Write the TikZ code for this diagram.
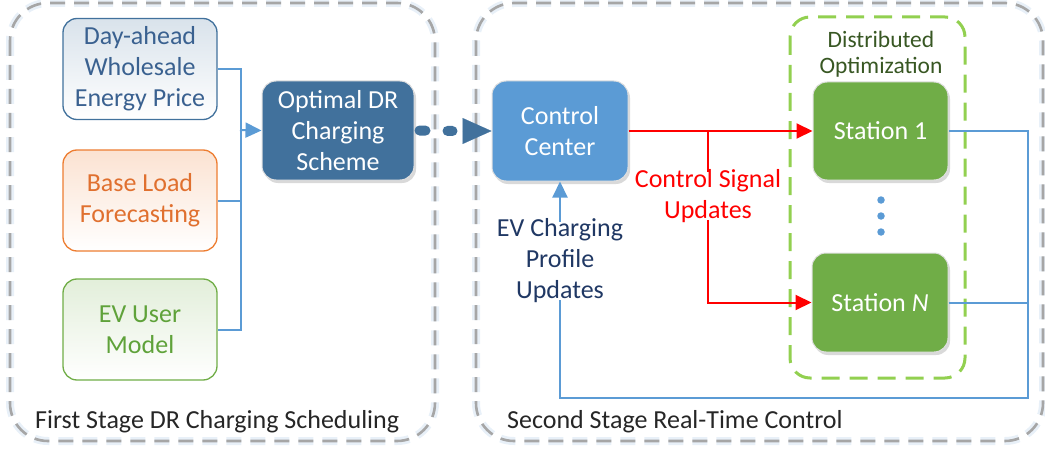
\documentclass[tikz,border=0pt]{standalone}
\usepackage{fontspec}
\setmainfont{Carlito}
\usetikzlibrary{arrows.meta,shadows,calc}
\definecolor{cBlueDk}{HTML}{41719C}
\definecolor{cBlue}{HTML}{5B9BD5}
\definecolor{cGreen}{HTML}{70AD47}
\definecolor{cGreenLt}{HTML}{92D050}
\definecolor{cOrange}{HTML}{ED7D31}
\definecolor{cNavy}{HTML}{203864}
\definecolor{cDayTxt}{HTML}{3A6190}
\definecolor{cBaseTxt}{HTML}{E0702F}
\definecolor{cEvTxt}{HTML}{5FA23A}
\definecolor{cDist}{HTML}{385723}
\definecolor{cGrayLine}{HTML}{A6A6A6}
\definecolor{cGlow}{HTML}{E8F0F8}
\definecolor{cLbl}{HTML}{262626}
\begin{document}
\begin{tikzpicture}[x=1pt,y=-1pt,
  txt/.style={font=\fontsize{26}{31}\selectfont, align=center},
  inbox/.style={txt, rounded corners=14pt, minimum width=154pt, minimum height=101pt,
    inner sep=0pt, line width=1.3pt, bottom color=white, shading angle=45},
  solidbox/.style={txt, text=white, rounded corners=14pt, inner sep=0pt, draw=black!12, line width=1pt,
    drop shadow={shadow xshift=2pt, shadow yshift=-3pt, opacity=0.25, fill=black!60}},
  outerbox/.style={draw=cGrayLine, line width=2.6pt, rounded corners=38pt, dash pattern=on 15pt off 9pt},
  glowbox/.style={draw=cGlow, line width=8pt, rounded corners=38pt, dash pattern=on 15pt off 9pt},
  blueline/.style={draw=cBlue, line width=2pt},
  bluearrow/.style={blueline, -{Triangle[length=16pt,width=15pt]}},
  redline/.style={draw=red, line width=2pt},
  redarrow/.style={redline, -{Triangle[length=16pt,width=15pt]}},
  lbl/.style={font=\fontsize{26}{31}\selectfont, text=cLbl, inner sep=0pt, anchor=west},
  dotn/.style={circle, fill=cBlue, minimum size=7.5pt, inner sep=0pt}
]
\useasboundingbox (0,0) rectangle (1045,452);

% outer stage boxes
\draw[glowbox] (10,3) rectangle (435,441);
\draw[outerbox] (10,3) rectangle (435,441);
\draw[glowbox] (476,3) rectangle (1043,441);
\draw[outerbox] (476,3) rectangle (1043,441);

% distributed optimization box
\draw[draw=cGreenLt, line width=3pt, rounded corners=20pt, dash pattern=on 18pt off 10pt] (790,17) rectangle (965,378);
\node[font=\fontsize{23.5}{26}\selectfont, text=cDist, align=center, inner sep=0pt] (dist) at (881,54) {Distributed\\Optimization};

% input boxes
\node[inbox, draw=cBlueDk, text=cDayTxt, top color=cBlueDk!20] (day) at (140,69) {Day-ahead\\Wholesale\\Energy Price};
\node[inbox, draw=cOrange, text=cBaseTxt, top color=cOrange!22] (base) at (140,200.5) {Base Load\\Forecasting};
\node[inbox, draw=cGreen, text=cEvTxt, top color=cGreen!20] (evu) at (140,329.5) {EV User\\Model};

% main boxes
\node[solidbox, fill=cBlueDk, minimum width=152pt, minimum height=99pt] (opt) at (338,130.5) {Optimal DR\\Charging\\Scheme};
\node[solidbox, fill=cBlue, minimum width=136pt, minimum height=100pt] (cc) at (560,131) {Control\\Center};
\node[solidbox, fill=cGreen, minimum width=135pt, minimum height=98pt] (s1) at (880.5,131) {Station 1};
\node[solidbox, fill=cGreen, minimum width=136pt, minimum height=99pt] (sN) at (880,302.5) {Station \textit{N}};

% dots
\node[dotn] (d1) at (881,200) {};
\node[dotn] (d2) at (881,216) {};
\node[dotn] (d3) at (881,232) {};

% text labels
\node[txt, text=red, inner sep=0pt] (csu) at (708,196) {Control Signal\\Updates};
\node[txt, text=cNavy, inner sep=0pt] (evc) at (560,261) {EV Charging\\Profile\\Updates};
\node[lbl] (l1) at (35,422) {First Stage DR Charging Scheduling};
\node[lbl] (l2) at (507,422) {Second Stage Real-Time Control};

% input connectors
\coordinate (j) at (240,130);
\draw[blueline] (day.east) -- ++(23,0) |- (evu.east);
\draw[blueline] (base.east) -- ++(23,0);
\draw[bluearrow] (j) -- (opt.west);

% dashed thick arrow
\draw[draw=cBlueDk, line width=10pt, line cap=round, dash pattern=on 6pt off 22pt] ([xshift=5pt]opt.east) -- ([xshift=-39pt]cc.west);
\draw[draw=cBlueDk, line width=0.1pt, -{Triangle[length=29pt,width=26pt]}] ([xshift=-29pt]cc.west) -- (cc.west);

% red control signal
\coordinate (rb) at (708,131);
\draw[redarrow] (cc.east) -- (s1.west);
\draw[redline] (rb) -- ([yshift=-3pt]csu.north);
\draw[redarrow] ([yshift=3pt]csu.south) |- (sN.west);

% feedback
\coordinate (fb) at (1028,398);
\draw[bluearrow] ([yshift=-3pt]evc.north) -- (cc.south);
\draw[blueline] ([yshift=3pt]evc.south) |- (fb) |- (s1.east);
\draw[blueline] (sN.east) -- (sN.east -| fb);
\end{tikzpicture}
\end{document}
